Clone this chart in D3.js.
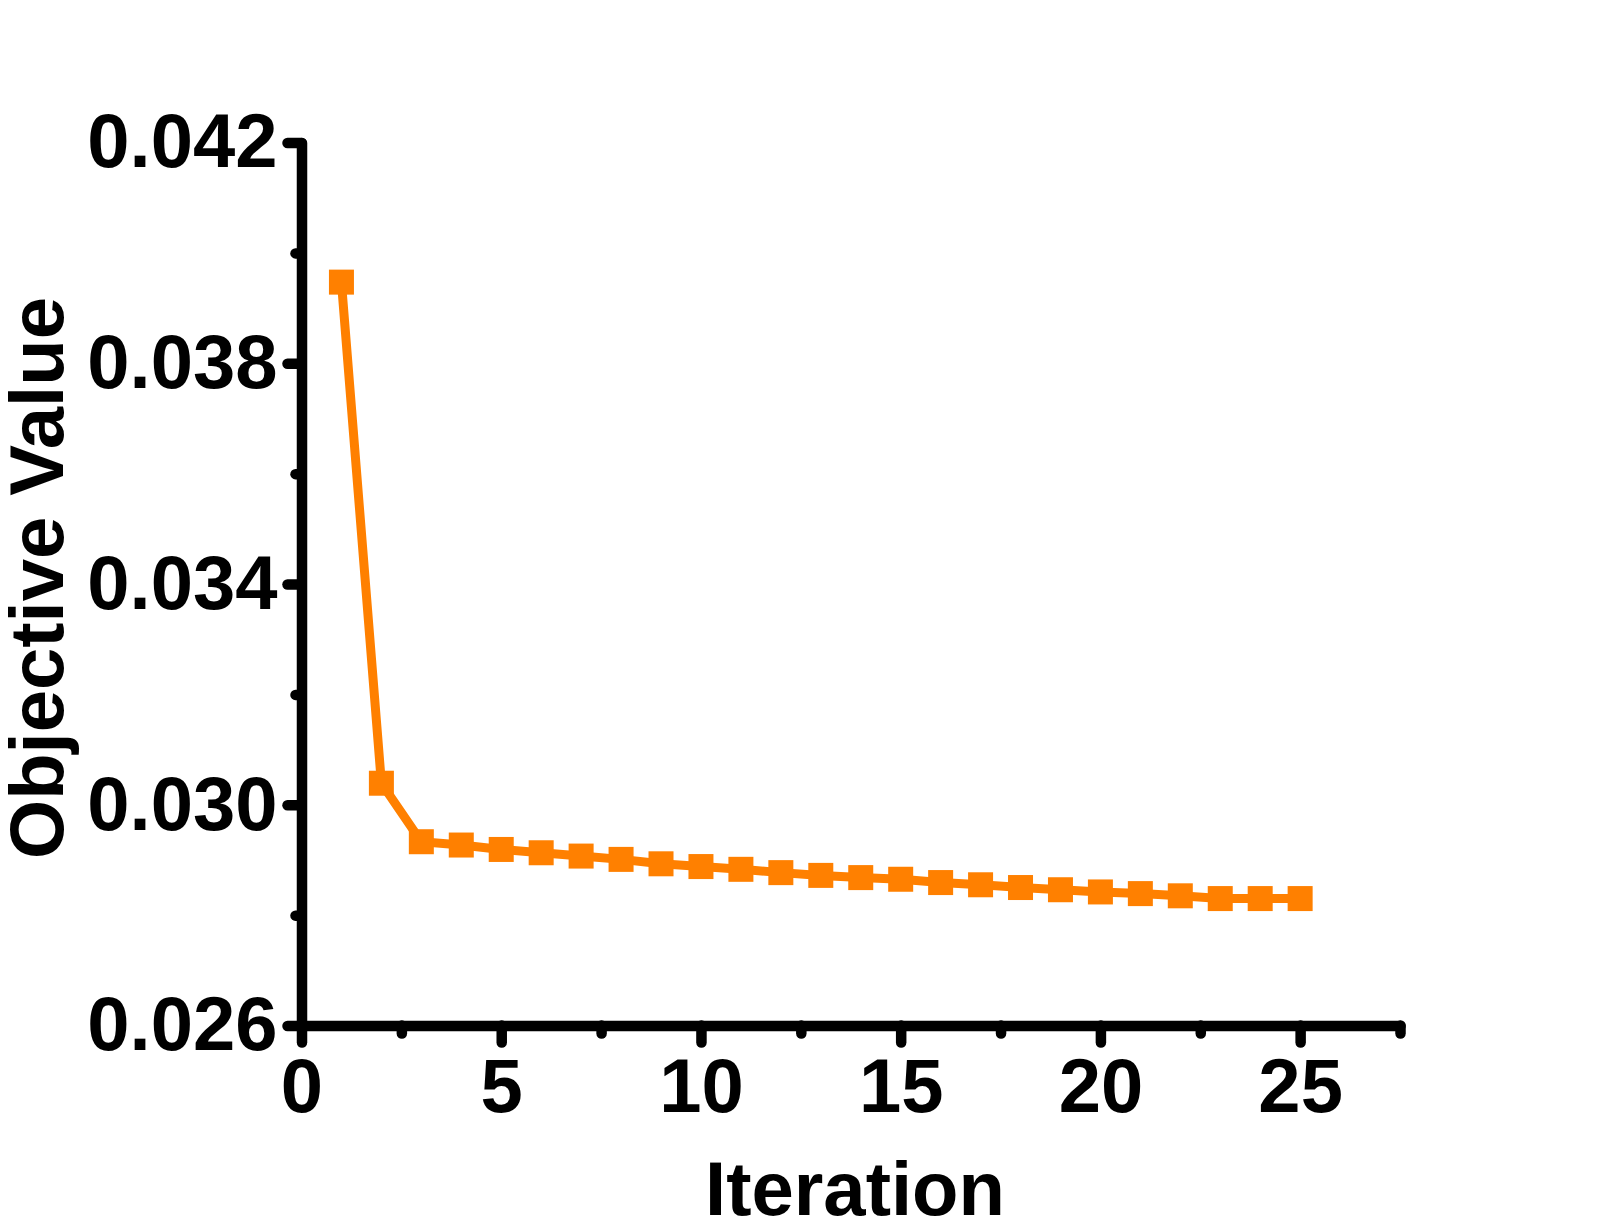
<!DOCTYPE html>
<html>
<head>
<meta charset="utf-8">
<script src="https://cdn.jsdelivr.net/npm/d3@7"></script>
<style>
  body { margin: 0; background: #fff; }
  svg text { font-family: "Liberation Sans", Arial, Helvetica, sans-serif; font-weight: bold; }
</style>
</head>
<body>
<div id="chart"></div>
<script>
// iteration number on the x axis
const iterations = [1, 2, 3, 4, 5, 6, 7, 8, 9, 10, 11, 12, 13, 14, 15, 16, 17, 18, 19, 20, 21, 22, 23, 24, 25];
// objective value
const objectiveValues = [
    0.03947, 0.03039, 0.02933, 0.02927, 0.02919, 0.02913, 0.02907, 0.02901, 0.02893, 0.02888,
    0.02883, 0.02877, 0.02872, 0.02868, 0.02865, 0.02859, 0.02855, 0.02850, 0.02846, 0.02842,
    0.02839, 0.02835, 0.02830, 0.02830, 0.02830
];
const xMajorTicks = [0, 5, 10, 15, 20, 25];
const xMinorTicks = [2.5, 7.5, 12.5, 17.5, 22.5, 27.5];
const yMajorTicks = [0.026, 0.030, 0.034, 0.038, 0.042];
const yMinorTicks = [0.028, 0.032, 0.036, 0.040];
const xDomain = [0, 27.5];
const yDomain = [0.026, 0.042];

const width = 1609, height = 1232;
const orange = "#ff8000";

const x = d3.scaleLinear().domain(xDomain).range([301.5, 1400]);
const y = d3.scaleLinear().domain(yDomain).range([1025.5, 142.5]);

const svg = d3.select("#chart").append("svg")
    .attr("width", width)
    .attr("height", height);

// x axis
const xAxisG = svg.append("g")
    .attr("class", "x axis")
    .attr("transform", `translate(0,${y(yDomain[0])})`);

xAxisG.call(d3.axisBottom(x)
    .tickValues(xMajorTicks)
    .tickSize(17)
    .tickSizeOuter(0)
    .tickPadding(16)
    .tickFormat(d3.format("d")));

xAxisG.append("g")
    .call(d3.axisBottom(x)
        .tickValues(xMinorTicks)
        .tickSize(8)
        .tickFormat(""))
    .call(g => g.select(".domain").remove());

// y axis
const yAxisG = svg.append("g")
    .attr("class", "y axis")
    .attr("transform", `translate(${x(0)},0)`);

yAxisG.call(d3.axisLeft(y)
    .tickValues(yMajorTicks)
    .tickSize(14)
    .tickSizeOuter(0)
    .tickPadding(10)
    .tickFormat(d3.format(".3f")));

yAxisG.append("g")
    .call(d3.axisLeft(y)
        .tickValues(yMinorTicks)
        .tickSize(6)
        .tickFormat(""))
    .call(g => g.select(".domain").remove());

svg.selectAll(".axis path, .axis line")
    .attr("stroke", "#000")
    .attr("stroke-width", 10.5)
    .attr("stroke-linecap", "round");

svg.selectAll(".axis text")
    .attr("fill", "#000")
    .style("font-size", "76px");

// line + square markers
const line = d3.line()
    .x((d, i) => x(iterations[i]))
    .y(d => y(d));

svg.append("path")
    .datum(objectiveValues)
    .attr("fill", "none")
    .attr("stroke", orange)
    .attr("stroke-width", 9)
    .attr("stroke-linejoin", "miter")
    .attr("d", line);

const size = 25;
svg.selectAll(".marker")
    .data(objectiveValues)
    .enter().append("rect")
    .attr("class", "marker")
    .attr("x", (d, i) => x(iterations[i]) - size / 2)
    .attr("y", d => y(d) - size / 2)
    .attr("width", size)
    .attr("height", size)
    .attr("fill", orange);

// axis titles
svg.append("text")
    .attr("x", 855)
    .attr("y", 1215)
    .attr("text-anchor", "middle")
    .style("font-size", "76px")
    .text("Iteration");

svg.append("text")
    .attr("transform", "translate(63,578) rotate(-90)")
    .attr("text-anchor", "middle")
    .style("font-size", "76px")
    .text("Objective Value");
</script>
</body>
</html>
